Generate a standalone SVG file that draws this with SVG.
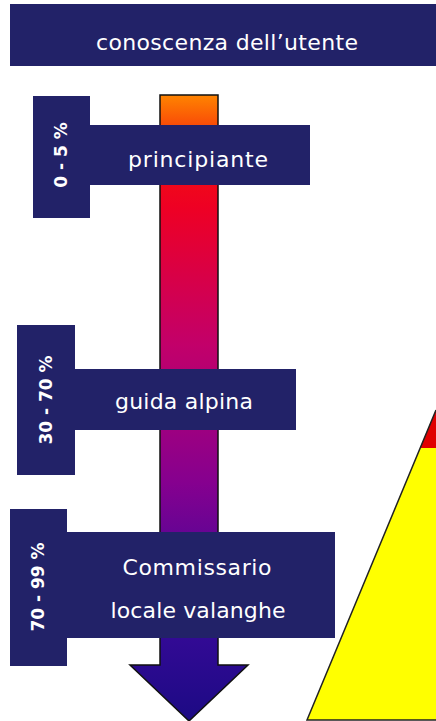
<svg xmlns="http://www.w3.org/2000/svg" width="436" height="721" viewBox="0 0 436 721">
<defs>
<linearGradient id="shaft" gradientUnits="userSpaceOnUse" x1="0" y1="95" x2="0" y2="721">
<stop offset="0" stop-color="#ff8400"/>
<stop offset="0.1" stop-color="#f21010"/>
<stop offset="0.18" stop-color="#ee0024"/>
<stop offset="0.4" stop-color="#c2006a"/>
<stop offset="0.62" stop-color="#85008f"/>
<stop offset="0.82" stop-color="#3a0a9a"/>
<stop offset="1" stop-color="#1c0a84"/>
</linearGradient>
<style>
.box{fill:#222268}
.t{font-family:"DejaVu Sans","Liberation Sans",sans-serif;fill:#ffffff;text-anchor:middle}
.lab{font-size:22px}
.pct{font-size:17px;font-weight:bold}
</style>
</defs>
<rect width="436" height="721" fill="#ffffff"/>
<g id="header">
<rect class="box" x="10" y="4" width="426" height="62"/>
<text class="t" x="227" y="50" font-size="22" textLength="262" lengthAdjust="spacing">conoscenza dell’utente</text>
</g>
<g id="triangle">
<polygon points="436,410 307,720 436,720" fill="#ffff00"/>
<polygon points="436,410 420,448 436,448" fill="#e00000"/>
<polyline points="436,410 307,720 436,720" fill="none" stroke="#222" stroke-width="1.5"/>
</g>
<g id="connectors">
<path id="arrow" d="M160,95 H218 V665 H248 L189,721 L130,665 H160 Z" fill="url(#shaft)" stroke="#111" stroke-width="1.5"/>
</g>
<g id="principiante">
<rect class="box" x="33" y="96" width="57" height="122"/>
<rect class="box" x="89" y="125" width="221" height="60"/>
<text class="t lab" x="198" y="167" textLength="140" lengthAdjust="spacing">principiante</text>
<text class="t pct" transform="translate(67,155) rotate(-90)">0 - 5 %</text>
</g>
<g id="guida">
<rect class="box" x="17" y="325" width="58" height="150"/>
<rect class="box" x="74" y="369" width="222" height="61"/>
<text class="t lab" x="184" y="409" textLength="138" lengthAdjust="spacing">guida alpina</text>
<text class="t pct" transform="translate(52,400) rotate(-90)">30 - 70 %</text>
</g>
<g id="commissario">
<rect class="box" x="10" y="509" width="57" height="157"/>
<rect class="box" x="66" y="532" width="269" height="106"/>
<text class="t lab" x="197" y="575" textLength="149" lengthAdjust="spacing">Commissario</text>
<text class="t lab" x="198" y="618" textLength="175" lengthAdjust="spacing">locale valanghe</text>
<text class="t pct" transform="translate(44,587) rotate(-90)">70 - 99 %</text>
</g>
</svg>
